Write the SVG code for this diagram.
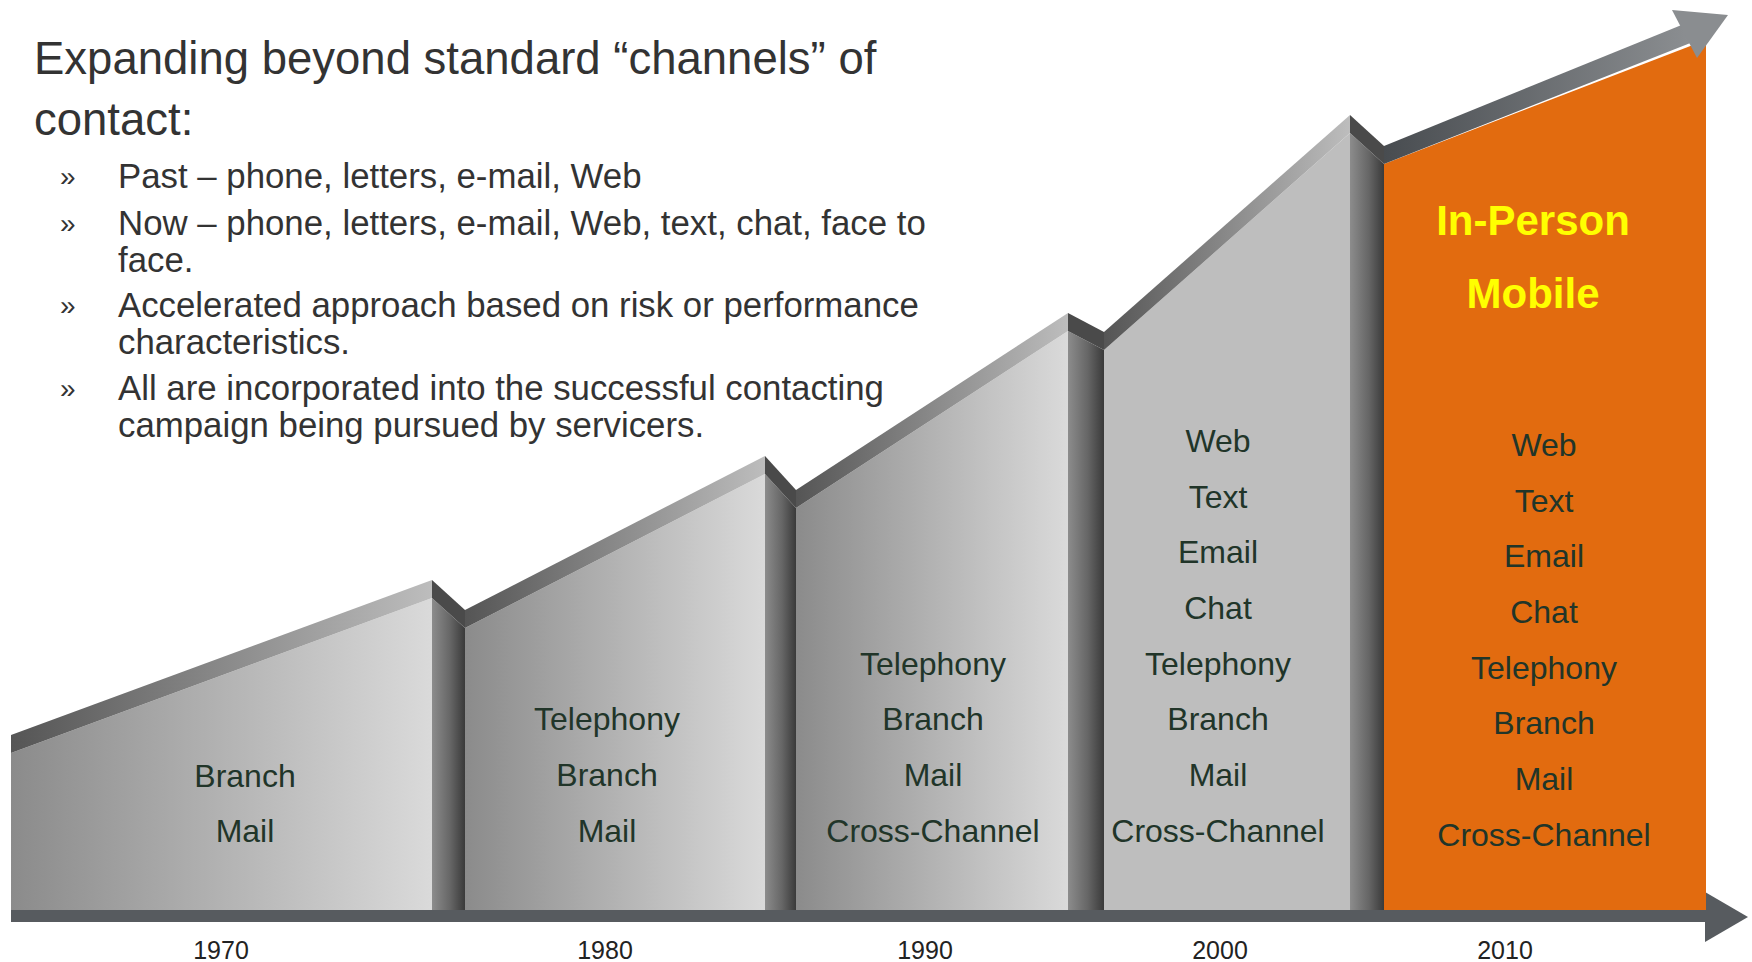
<svg xmlns="http://www.w3.org/2000/svg" width="1752" height="962" viewBox="0 0 1752 962">
<defs>
<linearGradient id="face" x1="0" y1="0" x2="1" y2="0">
<stop offset="0" stop-color="#8b8b8b"/><stop offset="1" stop-color="#dadada"/>
</linearGradient>
<linearGradient id="sep" x1="0" y1="0" x2="1" y2="0">
<stop offset="0" stop-color="#8c8c8c"/><stop offset="0.55" stop-color="#666"/><stop offset="1" stop-color="#3a3a3a"/>
</linearGradient>
<linearGradient id="band" x1="0" y1="0" x2="1" y2="0">
<stop offset="0" stop-color="#555"/><stop offset="1" stop-color="#bdbdbd"/>
</linearGradient>
<linearGradient id="bandO" x1="0" y1="0" x2="1" y2="0">
<stop offset="0" stop-color="#484c50"/><stop offset="1" stop-color="#8d9093"/>
</linearGradient>
<style>
.hd{font-family:"Liberation Sans",Arial,sans-serif;font-size:45.5px;fill:#333}
.bl{font-family:"Liberation Sans",Arial,sans-serif;font-size:34.8px;fill:#333}
.bu{font-family:"Liberation Sans",Arial,sans-serif;font-size:28px;fill:#333}
.pt{font-family:"Liberation Sans",Arial,sans-serif;font-size:32px;fill:#213529;text-anchor:middle}
.yr{font-family:"Liberation Sans",Arial,sans-serif;font-size:25px;fill:#222;text-anchor:middle}
.hi{font-family:"Liberation Sans",Arial,sans-serif;font-size:42px;font-weight:bold;fill:#ffff00;text-anchor:middle}
.notch{fill:#4a4a4a}
</style>
</defs>
<rect width="1752" height="962" fill="#fff"/>

<g id="intro">
<text class="hd" x="34" y="74">Expanding beyond standard “channels” of</text>
<text class="hd" x="34" y="135">contact:</text>
<text class="bu" x="60" y="186">»</text><text class="bl" x="118" y="188">Past – phone, letters, e-mail, Web</text>
<text class="bu" x="60" y="233">»</text><text class="bl" x="118" y="235">Now – phone, letters, e-mail, Web, text, chat, face to</text>
<text class="bl" x="118" y="272">face.</text>
<text class="bu" x="60" y="315">»</text><text class="bl" x="118" y="317">Accelerated approach based on risk or performance</text>
<text class="bl" x="118" y="354">characteristics.</text>
<text class="bu" x="60" y="398">»</text><text class="bl" x="118" y="400">All are incorporated into the successful contacting</text>
<text class="bl" x="118" y="437">campaign being pursued by servicers.</text>
</g>

<g id="connectors">
<rect x="11" y="910" width="1695" height="12" fill="#575b5f"/>
<polygon points="1705,892 1748,917 1705,942" fill="#575b5f"/>
</g>

<g id="p1970">
<polygon points="11,753 432,598 432,910 11,910" fill="url(#face)"/>
<polygon points="11,735 432,580 432,598 11,753" fill="url(#band)"/>
<polygon points="432,598 465,628 465,910 432,910" fill="url(#sep)"/>
<polygon class="notch" points="432,580 465,610 465,628 432,598"/>
<text class="pt" x="245" y="787">Branch</text>
<text class="pt" x="245" y="842">Mail</text>
<text class="yr" x="221" y="959">1970</text>
</g>

<g id="p1980">
<polygon points="465,628 765,474 765,910 465,910" fill="url(#face)"/>
<polygon points="465,610 765,456 765,474 465,628" fill="url(#band)"/>
<polygon points="765,474 796,508 796,910 765,910" fill="url(#sep)"/>
<polygon class="notch" points="765,456 796,490 796,508 765,474"/>
<text class="pt" x="607" y="730">Telephony</text>
<text class="pt" x="607" y="786">Branch</text>
<text class="pt" x="607" y="842">Mail</text>
<text class="yr" x="605" y="959">1980</text>
</g>

<g id="p1990">
<polygon points="796,508 1068,331 1068,910 796,910" fill="url(#face)"/>
<polygon points="796,490 1068,313 1068,331 796,508" fill="url(#band)"/>
<polygon points="1068,331 1104,350 1104,910 1068,910" fill="url(#sep)"/>
<polygon class="notch" points="1068,313 1104,332 1104,350 1068,331"/>
<text class="pt" x="933" y="675">Telephony</text>
<text class="pt" x="933" y="730">Branch</text>
<text class="pt" x="933" y="786">Mail</text>
<text class="pt" x="933" y="842">Cross-Channel</text>
<text class="yr" x="925" y="959">1990</text>
</g>

<g id="p2000">
<polygon points="1104,350 1350,133 1350,910 1104,910" fill="#bebebe"/>
<polygon points="1104,332 1350,115 1350,133 1104,350" fill="url(#band)"/>
<polygon points="1350,133 1384,164 1384,910 1350,910" fill="url(#sep)"/>
<polygon class="notch" points="1350,115 1384,146 1384,164 1350,133"/>
<text class="pt" x="1218" y="452">Web</text>
<text class="pt" x="1218" y="508">Text</text>
<text class="pt" x="1218" y="563">Email</text>
<text class="pt" x="1218" y="619">Chat</text>
<text class="pt" x="1218" y="675">Telephony</text>
<text class="pt" x="1218" y="730">Branch</text>
<text class="pt" x="1218" y="786">Mail</text>
<text class="pt" x="1218" y="842">Cross-Channel</text>
<text class="yr" x="1220" y="959">2000</text>
</g>

<g id="p2010">
<polygon points="1384,164 1706,40 1706,910 1384,910" fill="#e26b0f"/>
<polygon points="1384,146 1684,24 1698,40 1384,164" fill="url(#bandO)"/>
<polygon points="1672,10 1728,15 1697,58" fill="#8a8d90"/>
<text class="hi" x="1533" y="235">In-Person</text>
<text class="hi" x="1533" y="308">Mobile</text>
<text class="pt" x="1544" y="456">Web</text>
<text class="pt" x="1544" y="512">Text</text>
<text class="pt" x="1544" y="567">Email</text>
<text class="pt" x="1544" y="623">Chat</text>
<text class="pt" x="1544" y="679">Telephony</text>
<text class="pt" x="1544" y="734">Branch</text>
<text class="pt" x="1544" y="790">Mail</text>
<text class="pt" x="1544" y="846">Cross-Channel</text>
<text class="yr" x="1505" y="959">2010</text>
</g>
</svg>
